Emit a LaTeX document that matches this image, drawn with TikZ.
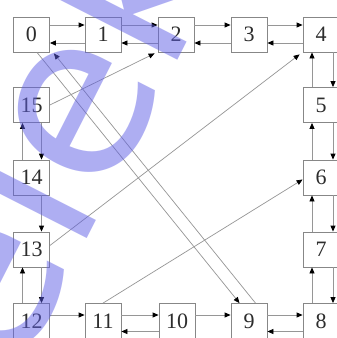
\documentclass[tikz,border=0pt]{standalone}
\usepackage{fontspec}
\setmainfont{Liberation Serif}
\newfontfamily\wmfont{DejaVu Sans}
\usetikzlibrary{arrows.meta}
\definecolor{boxgray}{RGB}{135,135,135}
\definecolor{linegray}{RGB}{150,150,150}
\definecolor{txtgray}{RGB}{45,45,45}
\definecolor{wmblue}{RGB}{95,95,230}
\begin{document}
\begin{tikzpicture}[x=1pt,y=-1pt,
  blk/.style={draw=boxgray,line width=0.8pt,minimum width=36pt,minimum height=35pt,
    inner sep=0pt,font=\fontsize{22}{22}\selectfont,text=txtgray,fill=white},
  arr/.style={draw=linegray,line width=0.8pt,
    -{Triangle[length=6pt,width=5pt,color=black,fill=black]}},
  diag/.style={draw=linegray,line width=0.7pt,
    -{Triangle[length=6pt,width=5pt,color=black,fill=black]}},
  wm/.style={text=wmblue,opacity=0.5,inner sep=0pt,
    font=\wmfont\fontsize{226}{226}\selectfont}
]
\useasboundingbox (0,0) rectangle (337,338);
\clip (0,0) rectangle (337,338);
\fill[white] (0,0) rectangle (337,338);

% boxes
\node[blk] (b0)  at (31.5,34.5) {0};
\node[blk] (b1)  at (103,34.5)  {1};
\node[blk] (b2)  at (176,34.5)  {2};
\node[blk] (b3)  at (249,34.5)  {3};
\node[blk] (b4)  at (321,34.5)  {4};
\node[blk] (b5)  at (321,105)   {5};
\node[blk] (b6)  at (321,177.5) {6};
\node[blk] (b7)  at (321,249.5) {7};
\node[blk] (b8)  at (321,321)   {8};
\node[blk] (b9)  at (249,321)   {9};
\node[blk] (b10) at (177,321)   {10};
\node[blk] (b11) at (103,321)   {11};
\node[blk] (b12) at (31.5,321)  {12};
\node[blk] (b13) at (31.5,249.5){13};
\node[blk] (b14) at (31.5,177.5){14};
\node[blk] (b15) at (31.5,105)  {15};

% top row
\foreach \a/\b in {b0/b1,b1/b2,b2/b3,b3/b4}{
  \draw[arr] ([yshift=9.5pt]\a.east) -- ([yshift=9.5pt]\b.west);
  \draw[arr] ([yshift=-8.5pt]\b.west) -- ([yshift=-8.5pt]\a.east);
}
% right column
\foreach \a/\b in {b4/b5,b5/b6,b6/b7,b7/b8}{
  \draw[arr] ([xshift=12pt]\a.south) -- ([xshift=12pt]\b.north);
  \draw[arr] ([xshift=-9pt]\b.north) -- ([xshift=-9pt]\a.south);
}
% bottom row
\draw[arr] ([yshift=6pt]b9.east) -- ([yshift=6pt]b8.west);
\draw[arr] ([yshift=-10.5pt]b8.west) -- ([yshift=-10.5pt]b9.east);
\draw[arr] ([yshift=6pt]b10.east) -- ([yshift=6pt]b9.west);
\draw[arr] ([yshift=6pt]b11.east) -- ([yshift=6pt]b10.west);
\draw[arr] ([yshift=-10.5pt]b10.west) -- ([yshift=-10.5pt]b11.east);
\draw[arr] ([yshift=6pt]b12.east) -- ([yshift=6pt]b11.west);
% left column
\draw[arr] ([xshift=-9pt]b12.north) -- ([xshift=-9pt]b13.south);
\draw[arr] ([xshift=10pt]b13.south) -- ([xshift=10pt]b12.north);
\draw[arr] ([xshift=10pt]b14.south) -- ([xshift=10pt]b13.north);
\draw[arr] ([xshift=-9pt]b14.north) -- ([xshift=-9pt]b15.south);
\draw[arr] ([xshift=10pt]b15.south) -- ([xshift=10pt]b14.north);

% diagonals
\draw[diag] (b15.east) -- ([xshift=-3pt,yshift=-1pt]b2.south west);
\draw[diag] ([yshift=4pt]b13.east) -- ([xshift=-3pt,yshift=-2pt]b4.south west);
\draw[diag] (b11.north) -- ([yshift=-2pt]b6.west);
\draw[diag] ([xshift=5.5pt]b0.south) -- ([xshift=-9.5pt]b9.north);
\draw[diag] ([xshift=6.5pt]b9.north) -- ([xshift=4pt,yshift=-1pt]b0.south east);

% watermark
\node[wm,rotate=63,anchor=base west] (wmark) at (14,382) {elek};
\end{tikzpicture}
\end{document}
